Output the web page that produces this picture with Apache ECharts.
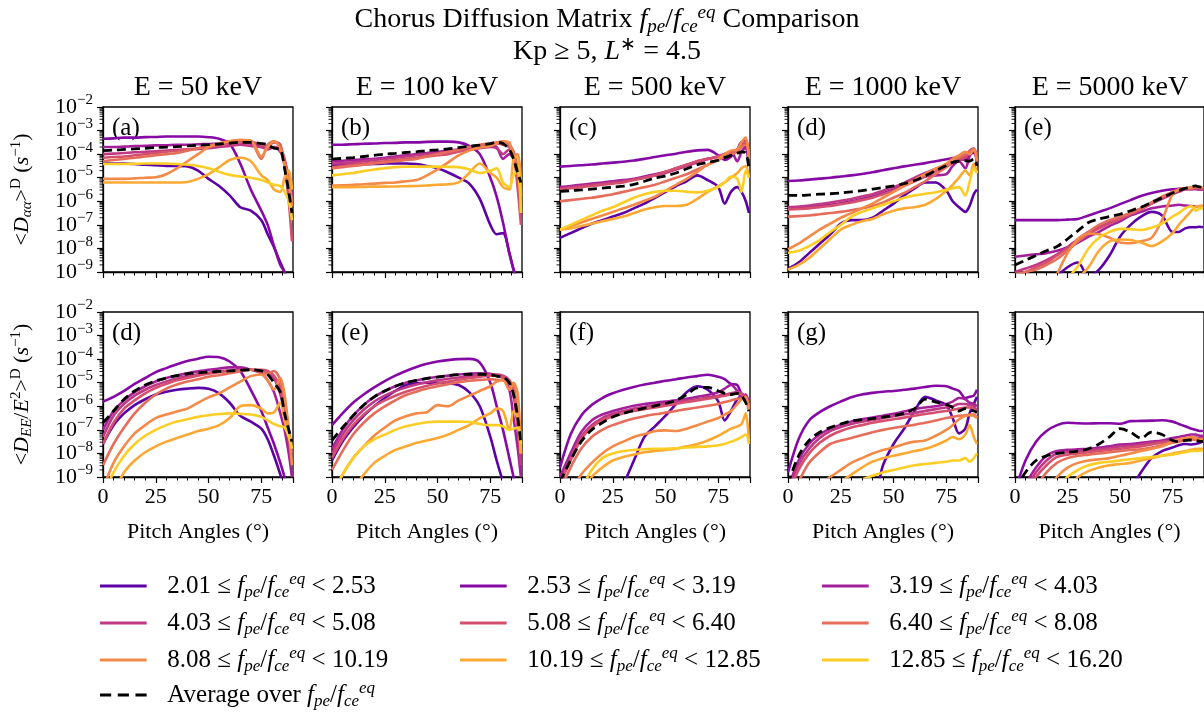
<!DOCTYPE html>
<html>
<head>
<meta charset="utf-8">
<script src="https://cdn.jsdelivr.net/npm/echarts@6.0.0/dist/echarts.min.js"></script>
<style>
  html, body { margin: 0; padding: 0; background: #fff; }
  #chart { width: 1204px; height: 712px; }
</style>
</head>
<body>
<div id="chart"></div>
<script>
// pitch angle grid (deg) shared by every curve
const pitch = [0, 5, 10, 15, 20, 25, 30, 35, 40, 45, 50, 55, 60, 65, 70, 75, 78, 81, 84, 86, 88, 89.5];
const energies = ['50', '100', '500', '1000', '5000'];
const bandEdges = ['2.01', '2.53', '3.19', '4.03', '5.08', '6.40', '8.08', '10.19', '12.85', '16.20'];
const bandColors = ['#5c01a6', '#8409a5', '#a4209a', '#bf3984', '#d5506f', '#e66d5b', '#f48a47', '#fca934', '#fcce25'];
const topLabels = ['(a)', '(b)', '(c)', '(d)', '(e)'];
const bottomLabels = ['(d)', '(e)', '(f)', '(g)', '(h)'];
const yTickExp = [-9, -8, -7, -6, -5, -4, -3, -2];

// values are log10 of the diffusion coefficient (s^-1)
// rows: 9 fpe/fce bands (low -> high), then the average (dashed)
const daa50 = [
  [-4.4, -4.4, -4.4, -4.42, -4.45, -4.47, -4.5, -4.5, -4.52, -4.7, -5.05, -5.35, -5.75, -6.25, -6.4, -6.8, -7.4, -7.95, -8.6, -9.0, -9.5, -10],
  [-3.35, -3.33, -3.3, -3.3, -3.28, -3.27, -3.25, -3.25, -3.25, -3.25, -3.28, -3.35, -3.55, -4.4, -5.5, -6.4, -7.0, -7.9, -8.7, -9.0, -9.5, -10],
  [-3.7, -3.7, -3.68, -3.66, -3.65, -3.63, -3.62, -3.6, -3.6, -3.58, -3.57, -3.55, -3.52, -3.5, -3.55, -3.7, -3.75, -3.7, -3.9, -4.3, -5.0, -5.8],
  [-4.0, -3.98, -3.95, -3.92, -3.9, -3.88, -3.85, -3.82, -3.8, -3.78, -3.75, -3.7, -3.65, -3.6, -3.65, -3.7, -3.8, -3.7, -3.8, -4.2, -5.2, -6.2],
  [-4.15, -4.12, -4.1, -4.05, -4.0, -3.95, -3.9, -3.85, -3.8, -3.75, -3.7, -3.62, -3.55, -3.5, -3.48, -3.6, -3.65, -3.5, -3.6, -4.5, -6.0, -7.7],
  [-4.3, -4.25, -4.2, -4.15, -4.1, -4.05, -4.0, -3.95, -3.85, -3.75, -3.65, -3.55, -3.45, -3.4, -3.45, -4.2, -3.6, -3.45, -3.7, -4.3, -5.0, -6.0],
  [-5.05, -5.05, -5.05, -5.03, -5.0, -4.98, -4.85, -4.6, -4.3, -4.0, -3.7, -3.55, -3.45, -3.4, -3.42, -4.1, -3.7, -3.45, -3.8, -4.5, -5.2, -6.2],
  [-5.2, -5.2, -5.2, -5.2, -5.2, -5.2, -5.2, -5.2, -5.18, -5.05, -4.85, -4.55, -4.25, -4.15, -4.3, -4.9, -5.1, -5.5, -5.6, -5.0, -4.7, -5.5],
  [-4.42, -4.42, -4.42, -4.41, -4.4, -4.4, -4.4, -4.42, -4.45, -4.5, -4.6, -4.75, -4.88, -4.95, -5.0, -5.1, -5.2, -5.3, -5.35, -5.6, -6.0, -6.8],
  [-3.85, -3.83, -3.8, -3.78, -3.75, -3.72, -3.7, -3.68, -3.65, -3.62, -3.6, -3.57, -3.53, -3.5, -3.5, -3.55, -3.6, -3.75, -3.8, -4.6, -5.6, -6.5]
];
const daa100 = [
  [-4.45, -4.45, -4.44, -4.43, -4.42, -4.4, -4.4, -4.4, -4.42, -4.5, -4.6, -4.78, -5.0, -5.25, -5.9, -7.0, -7.4, -7.35, -8.2, -8.9, -9.5, -10],
  [-3.6, -3.6, -3.58, -3.56, -3.55, -3.53, -3.52, -3.5, -3.5, -3.48, -3.47, -3.47, -3.5, -3.65, -4.0, -5.0, -5.8, -6.9, -8.2, -8.9, -9.4, -10],
  [-4.3, -4.28, -4.25, -4.22, -4.2, -4.15, -4.1, -4.05, -4.0, -3.95, -3.9, -3.85, -3.8, -3.75, -3.7, -3.65, -3.7, -4.2, -4.0, -4.2, -5.0, -6.0],
  [-4.4, -4.38, -4.35, -4.3, -4.25, -4.2, -4.15, -4.1, -4.05, -4.0, -3.95, -3.9, -3.85, -3.8, -3.75, -3.7, -3.75, -4.0, -3.8, -3.9, -4.8, -5.8],
  [-4.55, -4.5, -4.45, -4.4, -4.35, -4.3, -4.25, -4.2, -4.15, -4.1, -4.05, -4.0, -3.9, -3.8, -3.7, -3.6, -3.55, -3.6, -3.7, -4.0, -5.5, -7.0],
  [-4.6, -4.55, -4.5, -4.45, -4.4, -4.35, -4.3, -4.25, -4.2, -4.1, -4.0, -3.9, -3.8, -3.7, -3.6, -3.55, -3.5, -3.45, -3.6, -3.9, -4.8, -6.0],
  [-5.33, -5.32, -5.3, -5.28, -5.25, -5.22, -5.2, -5.15, -5.1, -4.9, -4.65, -4.35, -4.05, -3.85, -3.72, -3.65, -3.55, -3.45, -3.5, -4.1, -4.0, -5.2],
  [-5.4, -5.4, -5.4, -5.39, -5.38, -5.38, -5.37, -5.36, -5.35, -5.33, -5.3, -5.28, -5.2, -4.8, -4.4, -4.8, -5.0, -5.4, -5.5, -4.2, -4.1, -5.8],
  [-4.9, -4.85, -4.8, -4.72, -4.65, -4.6, -4.55, -4.53, -4.53, -4.53, -4.53, -4.54, -4.55, -4.65, -4.8, -4.7, -4.6, -5.2, -5.4, -4.9, -4.7, -6.5],
  [-4.21, -4.18, -4.15, -4.1, -4.05, -4.0, -3.97, -3.93, -3.9, -3.85, -3.82, -3.78, -3.72, -3.67, -3.62, -3.55, -3.5, -3.55, -3.8, -4.2, -4.8, -5.2]
];
const daa500 = [
  [-7.55, -7.35, -7.15, -6.95, -6.8, -6.65, -6.5, -6.3, -6.1, -5.85, -5.6, -5.35, -5.15, -4.9, -5.1, -5.4, -6.1, -5.6, -5.4, -5.6, -6.0, -6.5],
  [-4.53, -4.5, -4.47, -4.44, -4.4, -4.36, -4.32, -4.27, -4.2, -4.12, -4.05, -3.98, -3.9, -3.84, -3.82, -4.05, -4.25, -4.1, -3.8, -3.5, -3.6, -4.4],
  [-5.4, -5.35, -5.3, -5.25, -5.2, -5.15, -5.1, -5.05, -4.95, -4.85, -4.75, -4.6, -4.45, -4.3, -4.2, -4.1, -4.0, -3.9, -4.3, -3.9, -3.7, -4.5],
  [-5.45, -5.4, -5.35, -5.3, -5.25, -5.2, -5.15, -5.08, -5.0, -4.9, -4.8, -4.65, -4.5, -4.35, -4.2, -4.1, -4.0, -3.95, -3.8, -3.5, -3.4, -4.0],
  [-5.5, -5.45, -5.4, -5.35, -5.3, -5.25, -5.2, -5.1, -5.0, -4.9, -4.75, -4.6, -4.45, -4.3, -4.2, -4.1, -4.0, -3.95, -3.8, -3.6, -3.5, -4.2],
  [-6.0, -5.95, -5.9, -5.85, -5.78, -5.7, -5.6, -5.5, -5.4, -5.3, -5.15, -5.0, -4.85, -4.65, -4.45, -4.25, -4.1, -4.0, -3.9, -3.7, -3.6, -4.0],
  [-7.2, -7.05, -6.9, -6.75, -6.6, -6.45, -6.3, -6.15, -5.98, -5.8, -5.55, -5.3, -5.05, -4.75, -4.45, -4.2, -4.0, -3.85, -3.8, -3.5, -3.3, -4.2],
  [-7.2, -7.15, -7.05, -6.95, -6.85, -6.75, -6.65, -6.5, -6.35, -6.25, -6.2, -6.2, -6.15, -5.9, -5.6, -5.35, -5.2, -5.0, -4.8, -4.6, -4.5, -5.0],
  [-7.2, -7.0, -6.8, -6.6, -6.4, -6.25, -6.05, -5.85, -5.7, -5.6, -5.55, -5.55, -5.6, -5.62, -5.55, -5.4, -5.2, -4.95, -5.05, -5.6, -4.7, -5.0],
  [-5.58, -5.55, -5.52, -5.48, -5.44, -5.4, -5.36, -5.28, -5.15, -5.02, -4.92, -4.8, -4.62, -4.45, -4.35, -4.26, -4.15, -4.05, -3.96, -3.9, -3.95, -4.6]
];
const daa1000 = [
  [-8.87, -8.6, -8.2, -7.8, -7.4, -6.95, -6.8, -6.8, -6.7, -6.4, -6.1, -5.75, -5.45, -5.2, -5.2, -5.55, -6.0, -6.25, -6.45, -6.2, -5.7, -5.5],
  [-5.14, -5.12, -5.08, -5.04, -5.0, -4.95, -4.9, -4.84, -4.77, -4.68, -4.6, -4.52, -4.45, -4.38, -4.3, -4.22, -4.17, -4.12, -4.25, -4.0, -3.95, -4.2],
  [-6.29, -6.27, -6.24, -6.2, -6.15, -6.08, -6.0, -5.9, -5.8, -5.65, -5.5, -5.3, -5.1, -4.95, -4.9, -4.85, -4.5, -4.3, -4.6, -4.1, -3.8, -4.5],
  [-6.25, -6.22, -6.18, -6.12, -6.05, -5.98, -5.9, -5.8, -5.7, -5.55, -5.4, -5.22, -5.0, -4.8, -4.62, -4.48, -4.35, -4.25, -4.2, -3.9, -3.8, -4.3],
  [-6.35, -6.33, -6.3, -6.25, -6.2, -6.12, -6.05, -5.95, -5.85, -5.7, -5.55, -5.35, -5.15, -4.95, -4.72, -4.5, -4.35, -4.2, -4.1, -3.85, -3.75, -4.2],
  [-6.65, -6.63, -6.6, -6.55, -6.5, -6.45, -6.38, -6.3, -6.2, -6.05, -5.85, -5.65, -5.4, -5.15, -4.85, -4.55, -4.35, -4.15, -4.0, -3.9, -3.8, -4.0],
  [-8.04, -7.8, -7.5, -7.2, -6.95, -6.7, -6.5, -6.3, -6.1, -5.85, -5.6, -5.35, -5.1, -4.85, -4.62, -4.4, -4.2, -4.05, -3.9, -4.0, -3.8, -4.3],
  [-8.9, -8.7, -8.4, -8.0, -7.6, -7.2, -7.0, -6.85, -6.75, -6.55, -6.4, -6.3, -6.25, -6.15, -5.9, -5.55, -5.3, -5.0, -4.7, -4.9, -4.4, -4.8],
  [-8.18, -8.1, -7.9, -7.65, -7.3, -7.0, -6.65, -6.45, -6.3, -6.15, -6.0, -5.85, -5.75, -5.68, -5.62, -5.5, -5.45, -5.4, -5.75, -5.2, -4.6, -4.8],
  [-5.75, -5.75, -5.73, -5.7, -5.68, -5.65, -5.6, -5.55, -5.48, -5.42, -5.35, -5.25, -5.12, -4.92, -4.7, -4.48, -4.35, -4.3, -4.28, -4.3, -4.2, -4.5]
];
const daa5000 = [
  [-10, -10, -10, -9.8, -9.2, -8.8, -8.6, -9.2, -8.9, -8.3, -7.5, -7.0, -6.65, -6.45, -6.6, -7.3, -7.3, -7.15, -7.1, -7.1, -7.08, -7.1],
  [-6.8, -6.8, -6.8, -6.8, -6.8, -6.78, -6.75, -6.6, -6.45, -6.3, -6.12, -5.95, -5.78, -5.65, -5.55, -5.49, -5.47, -5.45, -5.45, -5.48, -5.5, -5.5],
  [-8.35, -8.3, -8.25, -8.2, -8.1, -7.95, -7.75, -7.5, -7.3, -7.05, -6.85, -6.6, -6.45, -6.3, -6.22, -6.18, -6.15, -6.18, -6.2, -6.22, -6.2, -6.2],
  [-9.0, -8.85, -8.7, -8.5, -8.25, -7.95, -7.6, -7.3, -7.1, -6.9, -6.7, -6.5, -6.3, -6.1, -5.9, -5.7, -5.6, -5.5, -5.5, -5.48, -5.5, -5.5],
  [-9.2, -9.0, -8.8, -8.6, -8.3, -8.0, -7.7, -7.4, -7.15, -6.95, -6.75, -6.55, -6.35, -6.1, -5.85, -5.62, -5.5, -5.45, -5.45, -5.42, -5.45, -5.45],
  [-9.1, -9.0, -8.9, -8.7, -8.45, -8.1, -7.7, -7.3, -7.0, -6.8, -6.65, -6.5, -6.3, -6.05, -5.8, -5.6, -5.5, -5.45, -5.45, -5.4, -5.4, -5.45],
  [-10, -10, -10, -10, -9.1, -8.2, -7.6, -7.38, -7.4, -7.55, -7.75, -7.78, -7.7, -7.55, -6.8, -5.7, -5.5, -5.45, -5.4, -5.35, -5.4, -5.45],
  [-10, -10, -10, -10, -10, -10, -9.3, -8.8, -8.1, -7.7, -7.62, -7.64, -7.75, -7.9, -7.7, -7.35, -7.0, -6.7, -6.4, -6.23, -6.2, -6.2],
  [-10, -10, -10, -10, -10, -9.3, -8.75, -8.0, -7.55, -7.3, -7.17, -7.18, -7.22, -7.12, -6.95, -6.65, -6.5, -6.3, -6.2, -6.4, -6.3, -6.3],
  [-8.7, -8.5, -8.3, -8.1, -7.92, -7.6, -7.25, -6.9, -6.75, -6.65, -6.55, -6.4, -6.25, -6.05, -5.85, -5.65, -5.55, -5.45, -5.38, -5.35, -5.4, -5.4]
];
const dee50 = [
  [-7.6, -6.8, -6.3, -5.95, -5.7, -5.5, -5.38, -5.3, -5.25, -5.22, -5.26, -5.45, -5.85, -6.4, -6.65, -6.95, -7.4, -8.1, -8.9, -9.5, -10, -10],
  [-5.8, -5.6, -5.35, -5.05, -4.8, -4.55, -4.38, -4.22, -4.08, -3.98, -3.9, -3.92, -4.1, -4.5, -5.3, -6.2, -6.9, -7.6, -8.4, -9.0, -9.6, -10],
  [-7.0, -6.2, -5.75, -5.4, -5.15, -4.95, -4.8, -4.7, -4.6, -4.52, -4.45, -4.4, -4.35, -4.35, -4.45, -4.6, -4.9, -5.4, -6.3, -7.0, -8.0, -9.0],
  [-7.3, -6.4, -5.9, -5.55, -5.3, -5.1, -4.95, -4.82, -4.72, -4.64, -4.58, -4.52, -4.48, -4.45, -4.45, -4.5, -4.6, -4.8, -5.5, -6.3, -7.5, -8.5],
  [-7.6, -6.7, -6.1, -5.75, -5.45, -5.22, -5.05, -4.9, -4.8, -4.7, -4.62, -4.55, -4.5, -4.47, -4.45, -4.45, -4.5, -4.7, -5.2, -6.0, -7.2, -8.0],
  [-8.5, -7.6, -6.9, -6.3, -5.85, -5.5, -5.25, -5.08, -4.95, -4.85, -4.75, -4.68, -4.6, -4.52, -4.45, -4.55, -4.62, -4.5, -4.9, -5.8, -7.0, -7.8],
  [-9.5, -8.4, -7.7, -7.15, -6.8, -6.5, -6.35, -6.22, -6.1, -5.85, -5.62, -5.45, -5.2, -4.95, -4.72, -4.65, -4.9, -5.3, -4.8, -5.5, -7.0, -8.5],
  [-10, -9.6, -8.8, -8.3, -7.95, -7.7, -7.5, -7.35, -7.2, -7.05, -6.95, -6.8, -6.5, -6.0, -5.95, -6.1, -6.3, -6.25, -5.85, -6.6, -7.2, -7.5],
  [-9.8, -8.8, -8.1, -7.6, -7.25, -7.0, -6.8, -6.65, -6.55, -6.45, -6.38, -6.33, -6.3, -6.32, -6.35, -6.45, -6.6, -6.75, -6.85, -6.9, -7.3, -7.8],
  [-6.7, -6.2, -5.7, -5.35, -5.1, -4.92, -4.8, -4.7, -4.62, -4.58, -4.55, -4.52, -4.5, -4.47, -4.45, -4.5, -4.65, -5.0, -5.4, -6.3, -7.0, -7.5]
];
const dee100 = [
  [-8.3, -7.5, -6.9, -6.4, -6.0, -5.65, -5.35, -5.1, -5.02, -5.0, -5.0, -5.02, -5.1, -5.4, -6.0, -7.3, -8.3, -9.2, -10, -10, -10, -10],
  [-6.8, -6.3, -5.85, -5.5, -5.2, -4.93, -4.7, -4.5, -4.33, -4.2, -4.1, -4.04, -4.0, -3.99, -4.15, -5.0, -6.0, -7.0, -8.2, -9.0, -9.8, -10],
  [-7.8, -7.0, -6.4, -5.95, -5.6, -5.35, -5.15, -5.0, -4.9, -4.82, -4.75, -4.7, -4.65, -4.62, -4.6, -4.62, -4.7, -4.8, -5.3, -6.5, -7.8, -9.0],
  [-8.0, -7.2, -6.6, -6.15, -5.8, -5.55, -5.35, -5.2, -5.08, -4.98, -4.9, -4.83, -4.78, -4.72, -4.68, -4.64, -4.65, -4.7, -4.9, -5.5, -7.0, -8.5],
  [-8.2, -7.4, -6.8, -6.35, -6.0, -5.75, -5.55, -5.38, -5.25, -5.13, -5.03, -4.95, -4.88, -4.8, -4.74, -4.7, -4.7, -4.75, -4.9, -5.3, -6.8, -8.0],
  [-8.7, -7.9, -7.2, -6.7, -6.3, -6.0, -5.75, -5.52, -5.38, -5.25, -5.15, -5.06, -4.98, -4.92, -4.88, -4.85, -4.88, -4.9, -5.0, -5.1, -6.5, -8.0],
  [-9.8, -8.9, -8.2, -7.7, -7.25, -6.9, -6.6, -6.42, -6.3, -6.25, -5.95, -6.0, -5.75, -5.55, -5.35, -5.15, -4.95, -4.88, -5.3, -5.0, -5.5, -8.0],
  [-10, -10, -9.5, -8.9, -8.4, -8.1, -7.85, -7.7, -7.55, -7.45, -7.35, -7.2, -7.0, -6.8, -6.5, -6.3, -6.1, -6.2, -7.0, -6.2, -6.5, -8.0],
  [-9.8, -8.9, -8.2, -7.7, -7.4, -7.2, -7.0, -6.85, -6.75, -6.68, -6.65, -6.65, -6.65, -6.67, -6.75, -6.8, -6.8, -6.85, -7.0, -6.95, -6.9, -7.6],
  [-7.45, -6.9, -6.4, -5.95, -5.6, -5.35, -5.15, -5.0, -4.9, -4.82, -4.76, -4.7, -4.66, -4.64, -4.64, -4.66, -4.72, -4.76, -5.0, -5.5, -6.5, -7.6]
];
const dee500 = [
  [-10, -10, -10, -10, -10, -10, -9.3, -8.3, -7.3, -6.85, -6.4, -5.9, -5.4, -5.15, -5.3, -5.8, -6.6, -6.2, -5.7, -5.6, -5.7, -6.0],
  [-8.6, -7.2, -6.4, -5.95, -5.65, -5.45, -5.3, -5.18, -5.08, -5.0, -4.92, -4.85, -4.78, -4.72, -4.66, -4.75, -4.85, -5.05, -5.1, -5.5, -5.7, -5.9],
  [-9.0, -8.0, -7.1, -6.6, -6.35, -6.2, -6.08, -5.98, -5.9, -5.85, -5.8, -5.75, -5.68, -5.6, -5.52, -5.4, -5.25, -5.1, -5.35, -5.6, -5.5, -5.9],
  [-9.2, -8.2, -7.3, -6.8, -6.5, -6.32, -6.2, -6.1, -6.02, -5.95, -5.88, -5.82, -5.76, -5.7, -5.62, -5.55, -5.5, -5.45, -5.4, -5.45, -5.6, -6.0],
  [-9.3, -8.3, -7.4, -6.9, -6.6, -6.42, -6.3, -6.2, -6.12, -6.05, -5.98, -5.9, -5.82, -5.75, -5.68, -5.6, -5.55, -5.5, -5.45, -5.5, -5.7, -6.2],
  [-9.6, -8.6, -7.8, -7.3, -7.0, -6.8, -6.65, -6.52, -6.42, -6.34, -6.27, -6.2, -6.12, -6.05, -5.98, -5.9, -5.82, -5.75, -5.68, -5.66, -5.7, -6.0],
  [-10, -9.6, -8.9, -8.4, -8.0, -7.7, -7.5, -7.3, -7.18, -7.05, -7.02, -7.05, -6.95, -6.8, -6.65, -6.5, -6.35, -6.2, -5.9, -5.7, -5.6, -6.2],
  [-10, -10, -9.6, -9.0, -8.6, -8.3, -8.15, -8.05, -7.95, -7.9, -7.85, -7.8, -7.7, -7.6, -7.45, -7.25, -7.1, -6.95, -6.85, -6.75, -6.3, -7.5],
  [-10, -10, -9.5, -8.7, -8.2, -8.0, -7.9, -7.85, -7.82, -7.8, -7.8, -7.78, -7.75, -7.72, -7.7, -7.65, -7.6, -7.5, -7.4, -7.3, -7.2, -7.6],
  [-9.2, -8.3, -7.5, -7.0, -6.7, -6.45, -6.3, -6.18, -6.08, -5.98, -5.88, -5.75, -5.5, -5.22, -5.2, -5.35, -5.45, -5.5, -5.45, -5.55, -5.85, -6.2]
];
const dee1000 = [
  [-10, -10, -10, -10, -10, -10, -10, -10, -10, -8.5, -7.6, -6.95, -6.2, -5.6, -5.75, -5.95, -6.5, -7.15, -6.95, -6.3, -5.9, -5.6],
  [-8.8, -7.4, -6.6, -6.25, -6.0, -5.8, -5.62, -5.5, -5.43, -5.38, -5.35, -5.3, -5.25, -5.18, -5.13, -5.15, -5.25, -5.35, -5.65, -5.6, -5.55, -5.3],
  [-9.5, -8.3, -7.6, -7.2, -6.95, -6.78, -6.65, -6.55, -6.48, -6.4, -6.32, -6.22, -6.12, -6.05, -6.0, -5.9, -5.8, -5.65, -5.7, -5.85, -5.9, -6.0],
  [-9.6, -8.5, -7.8, -7.35, -7.05, -6.88, -6.75, -6.65, -6.58, -6.5, -6.42, -6.35, -6.28, -6.2, -6.12, -6.05, -6.0, -5.9, -5.9, -5.95, -6.0, -6.2],
  [-9.8, -8.7, -8.0, -7.55, -7.25, -7.05, -6.9, -6.8, -6.7, -6.62, -6.55, -6.48, -6.4, -6.33, -6.26, -6.2, -6.15, -6.1, -6.05, -6.05, -6.1, -6.3],
  [-10, -9.2, -8.4, -7.95, -7.6, -7.45, -7.35, -7.22, -7.1, -7.0, -6.92, -6.85, -6.78, -6.7, -6.6, -6.5, -6.45, -6.4, -6.38, -6.35, -6.35, -6.5],
  [-10, -10, -9.7, -9.3, -9.0, -8.7, -8.4, -8.2, -8.0, -7.85, -7.75, -7.6, -7.5, -7.45, -7.25, -7.0, -6.8, -6.55, -6.4, -6.38, -6.4, -6.5],
  [-10, -10, -10, -9.8, -9.5, -9.2, -8.9, -8.6, -8.35, -8.2, -8.1, -8.0, -7.9, -7.8, -7.65, -7.45, -7.3, -7.4, -7.2, -6.8, -7.3, -7.6],
  [-10, -10, -10, -10, -9.8, -9.5, -9.3, -9.1, -8.95, -8.8, -8.7, -8.6, -8.5, -8.45, -8.4, -8.35, -8.3, -8.3, -8.2, -8.35, -8.2, -8.0],
  [-9.3, -8.1, -7.45, -7.1, -6.9, -6.75, -6.62, -6.57, -6.52, -6.46, -6.4, -6.3, -6.1, -5.7, -5.82, -5.92, -6.05, -6.2, -6.1, -6.15, -6.2, -6.25]
];
const dee5000 = [
  [-10, -10, -10, -10, -10, -10, -10, -10, -10, -10, -10, -9.5, -8.8, -8.2, -7.9, -7.75, -7.65, -7.6, -7.62, -7.6, -7.55, -7.5],
  [-9.6, -8.3, -7.5, -7.05, -6.8, -6.7, -6.72, -6.73, -6.72, -6.72, -6.74, -6.63, -6.62, -6.61, -6.59, -6.65, -6.75, -6.85, -6.95, -7.0, -7.05, -7.05],
  [-10, -9.3, -8.6, -8.1, -7.9, -7.85, -7.82, -7.8, -7.75, -7.7, -7.62, -7.6, -7.55, -7.5, -7.45, -7.35, -7.3, -7.25, -7.2, -7.2, -7.25, -7.25],
  [-10, -9.5, -8.8, -8.3, -8.0, -7.95, -7.92, -7.88, -7.82, -7.78, -7.7, -7.68, -7.62, -7.55, -7.5, -7.45, -7.4, -7.38, -7.35, -7.33, -7.35, -7.35],
  [-10, -9.7, -9.0, -8.5, -8.15, -8.05, -8.0, -7.95, -7.9, -7.85, -7.8, -7.75, -7.7, -7.62, -7.55, -7.5, -7.45, -7.42, -7.4, -7.38, -7.4, -7.4],
  [-10, -10, -9.4, -8.8, -8.4, -8.2, -8.1, -8.05, -8.0, -7.95, -7.9, -7.85, -7.82, -7.75, -7.65, -7.55, -7.5, -7.45, -7.4, -7.42, -7.45, -7.5],
  [-10, -10, -10, -9.6, -9.0, -8.6, -8.4, -8.3, -8.25, -8.2, -8.1, -8.0, -7.9, -7.8, -7.7, -7.5, -7.4, -7.35, -7.3, -7.35, -7.4, -7.4],
  [-10, -10, -10, -10, -10, -9.5, -9.0, -8.75, -8.6, -8.5, -8.45, -8.4, -8.3, -8.2, -8.1, -8.0, -7.95, -7.9, -7.85, -7.8, -7.8, -7.8],
  [-10, -10, -10, -10, -9.5, -9.0, -8.7, -8.5, -8.4, -8.35, -8.3, -8.25, -8.2, -8.15, -8.1, -8.05, -8.0, -7.95, -7.9, -7.9, -7.88, -7.85],
  [-9.5, -8.8, -8.3, -8.1, -8.0, -7.95, -7.9, -7.8, -7.6, -7.3, -6.95, -7.1, -7.35, -7.1, -7.2, -7.45, -7.5, -7.45, -7.43, -7.45, -7.48, -7.5]
];

const panels = [daa50, daa100, daa500, daa1000, daa5000, dee50, dee100, dee500, dee1000, dee5000];
const seriesKeys = ['b0', 'b1', 'b2', 'b3', 'b4', 'b5', 'b6', 'b7', 'b8', 'avg'];

const FONT = 'Liberation Serif';
const colLeft = [103, 332, 560, 788, 1015];
const rowTop = [107, 312];
const W = 190, H = 165;

// rich-text pieces for the math bits
const mathRich = (s) => ({
  i: { fontStyle: 'italic', fontSize: s, fontFamily: FONT },
  sb: { fontStyle: 'italic', fontSize: Math.round(s * 0.68), fontFamily: FONT, padding: [Math.round(s * 0.5), 0, 0, 0] },
  sp: { fontStyle: 'italic', fontSize: Math.round(s * 0.68), fontFamily: FONT, padding: [0, 0, Math.round(s * 0.5), 0] },
  n: { fontSize: Math.round(s * 0.68), fontFamily: FONT, padding: [0, 0, Math.round(s * 0.5), 0] },
  g: { width: 14 }
});
const fRatio = '{i|f}{sb|pe}/{i|f}{sb|ce}{sp|eq}';

const legendText = {};
for (let j = 0; j < 9; j++) {
  legendText[seriesKeys[j]] = '{g|}' + bandEdges[j] + ' ≤ ' + fRatio + ' < ' + bandEdges[j + 1];
}
legendText.avg = '{g|}Average over ' + fRatio;

// matplotlib-style log minor tick positions (2..9 x 10^n)
const minorMult = [2, 3, 4, 5, 6, 7, 8, 9];
const minorTickExp = [];
for (let n = -9; n < -2; n++) minorMult.forEach(m => minorTickExp.push([0, n + Math.log10(m)]));

const yNames = [
  '<{i|D}{sb|αα}>{n|D} ({i|s}{n|−1})',
  '<{i|D}{sb|EE}/{i|E}{n|2}>{n|D} ({i|s}{n|−1})'
];

const grids = [], xAxes = [], yAxes = [], series = [];
panels.forEach((rows, k) => {
  const row = k < 5 ? 0 : 1, col = k % 5;
  grids.push({ left: colLeft[col], top: rowTop[row], width: W, height: H, show: true, borderColor: '#000', borderWidth: 1.3, backgroundColor: 'transparent' });
  xAxes.push({
    gridIndex: k, type: 'value', min: 0, max: 90, interval: 25,
    axisLine: { show: true, lineStyle: { color: '#000', width: 1.3 } },
    axisTick: { show: true, length: 6, lineStyle: { color: '#000', width: 1.2 } },
    minorTick: { show: true, splitNumber: 5, length: 3.5, lineStyle: { color: '#000', width: 1 } },
    splitLine: { show: false },
    axisLabel: { show: row === 1, color: '#000', fontFamily: FONT, fontSize: 22, margin: 9, showMaxLabel: false,
      formatter: v => (v === 90 ? '' : String(v)) },
    name: row === 1 ? 'Pitch Angles (°)' : '', nameLocation: 'middle', nameGap: 44,
    nameTextStyle: { color: '#000', fontFamily: FONT, fontSize: 22 }
  });
  yAxes.push({
    gridIndex: k, type: 'value', min: -9, max: -2, interval: 1,
    axisLine: { show: true, lineStyle: { color: '#000', width: 1.3 } },
    axisTick: { show: true, length: 6, lineStyle: { color: '#000', width: 1.2 } },
    splitLine: { show: false },
    axisLabel: { show: false },
    name: col === 0 ? yNames[row] : '', nameLocation: 'middle', nameRotate: 90, nameGap: 68,
    nameTextStyle: { color: '#000', fontFamily: FONT, fontSize: 22, rich: mathRich(22) }
  });
  rows.forEach((vals, j) => {
    const isAvg = j === 9;
    const color = isAvg ? '#000' : bandColors[j];
    series.push({
      type: 'line', name: seriesKeys[j], xAxisIndex: k, yAxisIndex: k,
      data: pitch.map((p, i) => [p, vals[i]]),
      symbol: 'none', showSymbol: false, smooth: 0.3, clip: true,
      lineStyle: { color: color, width: isAvg ? 2.8 : 2.6, type: isAvg ? [9, 5] : 'solid' },
      itemStyle: { color: color },
      z: isAvg ? 4 : 3, silent: true
    });
  });
  // log-style minor ticks on the y axis
  series.push({
    type: 'custom', xAxisIndex: k, yAxisIndex: k, silent: true, clip: false, z: 5,
    data: minorTickExp,
    renderItem: (params, api) => {
      const p = api.coord([0, api.value(1)]);
      return { type: 'line', shape: { x1: p[0] - 3.5, y1: p[1], x2: p[0], y2: p[1] }, style: { stroke: '#000', lineWidth: 0.9 } };
    }
  });
  // 10^n tick labels, only on the first column (placed through the axis scale)
  if (col === 0) {
    series.push({
      type: 'custom', xAxisIndex: k, yAxisIndex: k, silent: true, clip: false, z: 5,
      data: yTickExp.map(v => [0, v]),
      renderItem: (params, api) => {
        const v = api.value(1);
        const p = api.coord([0, v]);
        return {
          type: 'text', x: p[0] - 10, y: p[1],
          style: {
            text: '{b|10}{s|−' + (-v) + '}', align: 'right', verticalAlign: 'middle', fill: '#000',
            rich: {
              b: { fontFamily: FONT, fontSize: 22, fill: '#000', color: '#000' },
              s: { fontFamily: FONT, fontSize: 15, fill: '#000', color: '#000', padding: [0, 0, 13, 0] }
            }
          }
        };
      }
    });
  }
});

// legend swatches drawn as flat bars (solid) or three dashes (average)
const solidIcon = 'path://M0,0H50V3H0Z';
const dashIcon = 'path://M0,0H12V3H0Z M19,0H31V3H19Z M38,0H50V3H38Z';
const legendLeft = [100, 460, 822];
const legendTop = [571, 608, 645, 680];
const legends = seriesKeys.map((key, j) => {
  const isAvg = j === 9;
  const r = isAvg ? 3 : Math.floor(j / 3), c = isAvg ? 0 : j % 3;
  return {
    data: [{ name: key, icon: isAvg ? dashIcon : solidIcon }], left: legendLeft[c], top: legendTop[r], padding: 0,
    itemWidth: 50, itemHeight: 2.8, selectedMode: false,
    formatter: name => legendText[name],
    textStyle: { color: '#000', fontFamily: FONT, fontSize: 25, rich: mathRich(25) }
  };
});

const graphics = [];
const addText = (x, y, text, size, align) => graphics.push({
  type: 'text', x: x, y: y, silent: true,
  style: { text: text, fontFamily: FONT, fontSize: size, fill: '#000', align: align || 'center', verticalAlign: 'middle', rich: mathRich(size) }
});
addText(607, 20, 'Chorus Diffusion Matrix ' + fRatio + ' Comparison', 28);
addText(607, 52, 'Kp ≥ 5, {i|L}{n|∗} = 4.5', 28);
energies.forEach((e, c) => addText(colLeft[c] + W / 2, 88, 'E = ' + e + ' keV', 28));
topLabels.forEach((t, c) => addText(colLeft[c] + 9, rowTop[0] + 21, t, 25, 'left'));
bottomLabels.forEach((t, c) => addText(colLeft[c] + 9, rowTop[1] + 21, t, 25, 'left'));

const chart = echarts.init(document.getElementById('chart'), null, { renderer: 'canvas' });
chart.setOption({
  backgroundColor: '#fff',
  animation: false,
  grid: grids,
  xAxis: xAxes,
  yAxis: yAxes,
  legend: legends,
  series: series,
  graphic: graphics
});
</script>
</body>
</html>
